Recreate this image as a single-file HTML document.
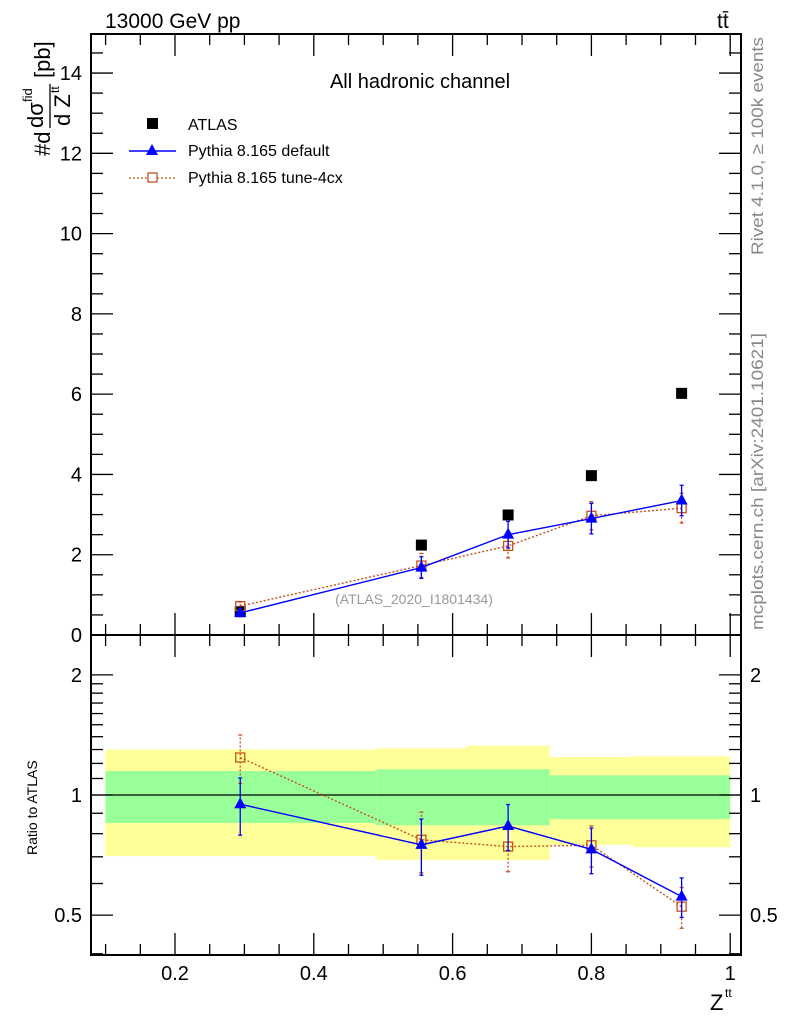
<!DOCTYPE html>
<html><head><meta charset="utf-8"><style>
html,body{margin:0;padding:0;background:#fff}
svg{display:block;font-family:"Liberation Sans",sans-serif}
</style></head><body>
<svg id="chart" width="786" height="1024" xmlns="http://www.w3.org/2000/svg">
<rect x="0" y="0" width="786" height="1024" fill="#fff"/>
<g id="bands"></g>
<g id="axes"></g>
<g id="series"></g>
<text x="105" y="28" font-size="21">13000 GeV pp</text>
<text x="717" y="28" font-size="21">tt̄</text>
<text x="420" y="88" font-size="20" text-anchor="middle">All hadronic channel</text>
<g>
<rect x="147" y="118" width="11" height="11" fill="#000"/>
<text x="188" y="130" font-size="16">ATLAS</text>
<line x1="129" y1="151" x2="176" y2="151" stroke="#0000ff" stroke-width="1.5"/>
<polygon points="152,144 146,155 158,155" fill="#0000ff"/>
<text x="188" y="156" font-size="16">Pythia 8.165 default</text>
<line x1="129" y1="178" x2="176" y2="178" stroke="#c8501e" stroke-width="1.3" stroke-dasharray="2,2"/>
<rect x="148" y="173" width="9" height="9" fill="#fff" stroke="#c8501e" stroke-width="1.3"/>
<text x="188" y="183" font-size="16">Pythia 8.165 tune-4cx</text>
</g>
<text x="414" y="604" font-size="14" fill="#999" text-anchor="middle">(ATLAS_2020_I1801434)</text>
<text transform="translate(763,255) rotate(-90)" font-size="17" fill="#888" textLength="218" lengthAdjust="spacingAndGlyphs">Rivet 4.1.0, ≥ 100k events</text>
<text transform="translate(763,630) rotate(-90)" font-size="17" fill="#888" textLength="297" lengthAdjust="spacingAndGlyphs">mcplots.cern.ch [arXiv:2401.10621]</text>
<g transform="translate(50,156) rotate(-90)">
<text x="0" y="0" font-size="22">#d</text>
<text x="28" y="-7" font-size="22">dσ</text>
<text x="54" y="-18" font-size="13">fid</text>
<line x1="28" y1="0" x2="72" y2="0" stroke="#000" stroke-width="1.3"/>
<text x="30" y="20" font-size="22">d Z</text>
<text x="63" y="9" font-size="12">tt</text>
<text x="78" y="0" font-size="22">[pb]</text>
</g>
<text transform="translate(37,855) rotate(-90)" font-size="14">Ratio to ATLAS</text>
<text x="710" y="1010" font-size="22">Z</text>
<text x="725" y="997" font-size="12">tt</text>
</svg>
<script>
const binEdges=[0.1,0.49,0.62,0.74,0.86,1.0];
const xVals=[0.294,0.555,0.68,0.8,0.93];
const atlasVals=[0.58,2.24,2.99,3.97,6.02];
const defaultVals=[0.55,1.68,2.5,2.9,3.35];
const defaultErr=[0.09,0.27,0.33,0.38,0.38];
const tuneVals=[0.72,1.73,2.22,2.97,3.16];
const tuneErr=[0.1,0.3,0.3,0.35,0.37];
const yellowLo=[0.703,0.687,0.687,0.75,0.74];
const yellowHi=[1.30,1.31,1.33,1.245,1.25];
const greenLo=[0.851,0.84,0.84,0.87,0.87];
const greenHi=[1.148,1.16,1.16,1.12,1.12];
const xTicks=[0.2,0.4,0.6,0.8,1];
const yTicks=[0,2,4,6,8,10,12,14];
const rTicks=[0.5,1,2];

const NS="http://www.w3.org/2000/svg";
const L=91,R=741,T=34,M=635,B=955;
const X=v=>105.6+(v-0.1)*694;
const Y=v=>635-v*40.14;
const RY=v=>795-Math.log10(v)*399;
function mk(p,tag,at){const e=document.createElementNS(NS,tag);for(const k in at)e.setAttribute(k,at[k]);p.appendChild(e);return e;}
const bands=document.getElementById('bands'),axes=document.getElementById('axes'),ser=document.getElementById('series');
for(let i=0;i<5;i++){
 const x1=X(binEdges[i]),x2=X(binEdges[i+1]);
 const y=mk(bands,'rect',{x:x1,y:RY(yellowHi[i]),width:x2-x1,height:RY(yellowLo[i])-RY(yellowHi[i]),fill:'#ffff99'});
 
 
 const g=mk(bands,'rect',{x:x1,y:RY(greenHi[i]),width:x2-x1,height:RY(greenLo[i])-RY(greenHi[i]),fill:'#99ff99'});
 
 
}
mk(axes,'line',{x1:L,x2:R,y1:RY(1),y2:RY(1),stroke:'#000','stroke-width':1.3});
mk(axes,'rect',{x:L,y:T,width:R-L,height:M-T,fill:'none',stroke:'#000','stroke-width':2});
mk(axes,'rect',{x:L,y:M,width:R-L,height:B-M,fill:'none',stroke:'#000','stroke-width':2});
for(let v=0.1;v<=1.0001;v+=0.05){
 const maj=xTicks.some(t=>Math.abs(t-v)<1e-6);const len=maj?22:11;const x=X(v);
 for(const [y0,d] of [[M,-1],[T,1],[B,-1],[M,1]]) mk(axes,'line',{x1:x,x2:x,y1:y0,y2:y0+d*len,stroke:'#000','stroke-width':1.3});
}
xTicks.forEach(v=>{const t=mk(axes,'text',{x:X(v),y:980,'font-size':20,'text-anchor':'middle'});t.textContent=String(v);
 
 });
for(let v=0;v<=14.9;v+=0.5){
 const maj=yTicks.includes(v);const len=maj?22:12;const y=Y(v);
 mk(axes,'line',{x1:L,x2:L+len,y1:y,y2:y,stroke:'#000','stroke-width':1.3});
 mk(axes,'line',{x1:R,x2:R-len,y1:y,y2:y,stroke:'#000','stroke-width':1.3});
}
yTicks.forEach(v=>{const t=mk(axes,'text',{x:82,y:Y(v)+7,'font-size':20,'text-anchor':'end'});t.textContent=String(v);
 
 });
const rminor=[0.4,0.5,0.6,0.7,0.8,0.9,1,1.1,1.2,1.3,1.4,1.5,1.6,1.7,1.8,1.9,2];
rminor.forEach(v=>{const maj=rTicks.includes(v);const len=maj?22:12;const y=RY(v);
 mk(axes,'line',{x1:L,x2:L+len,y1:y,y2:y,stroke:'#000','stroke-width':1.3});
 mk(axes,'line',{x1:R,x2:R-len,y1:y,y2:y,stroke:'#000','stroke-width':1.3});});
rTicks.forEach(v=>{const t=mk(axes,'text',{x:82,y:RY(v)+7,'font-size':20,'text-anchor':'end'});t.textContent=String(v);
 
 
 const t2=mk(axes,'text',{x:750,y:RY(v)+7,'font-size':20});t2.textContent=String(v);
 
 });
function drawSeries(vals,errs,color,dash,marker,name){
 const main=xVals.map((x,i)=>[X(x),Y(vals[i])]);
 const rat=xVals.map((x,i)=>[X(x),RY(vals[i]/atlasVals[i])]);
 for(const pts of [main,rat]){
  const pl=mk(ser,'polyline',{points:pts.map(p=>p.join(',')).join(' '),fill:'none',stroke:color,'stroke-width':1.4,'stroke-dasharray':dash});
  
  
 }
 xVals.forEach((x,i)=>{
  const px=X(x);
  const segs=[[Y(vals[i]-errs[i]),Y(vals[i]+errs[i])],[RY((vals[i]-errs[i])/atlasVals[i]),RY((vals[i]+errs[i])/atlasVals[i])]];
  for(const [a,b] of segs){
   mk(ser,'line',{x1:px,x2:px,y1:a,y2:b,stroke:color,'stroke-width':1.3,'stroke-dasharray':dash});
   mk(ser,'line',{x1:px-2,x2:px+2,y1:a,y2:a,stroke:color,'stroke-width':1.3});
   mk(ser,'line',{x1:px-2,x2:px+2,y1:b,y2:b,stroke:color,'stroke-width':1.3});
  }
  for(const py of [Y(vals[i]),RY(vals[i]/atlasVals[i])]){
   let m;
   if(marker==='tri') m=mk(ser,'polygon',{points:`${px},${py-7} ${px-6},${py+4} ${px+6},${py+4}`,fill:color});
   else m=mk(ser,'rect',{x:px-4.5,y:py-4.5,width:9,height:9,fill:'none',stroke:color,'stroke-width':1.3});
   
   
  }
 });
}
xVals.forEach((x,i)=>{const r=mk(ser,'rect',{x:X(x)-5.5,y:Y(atlasVals[i])-5.5,width:11,height:11,fill:'#000'});
 
 });
drawSeries(tuneVals,tuneErr,'#c8501e','2,2','sq','tune-4cx');
drawSeries(defaultVals,defaultErr,'#0000ff','','tri','default');
</script>
</body></html>
